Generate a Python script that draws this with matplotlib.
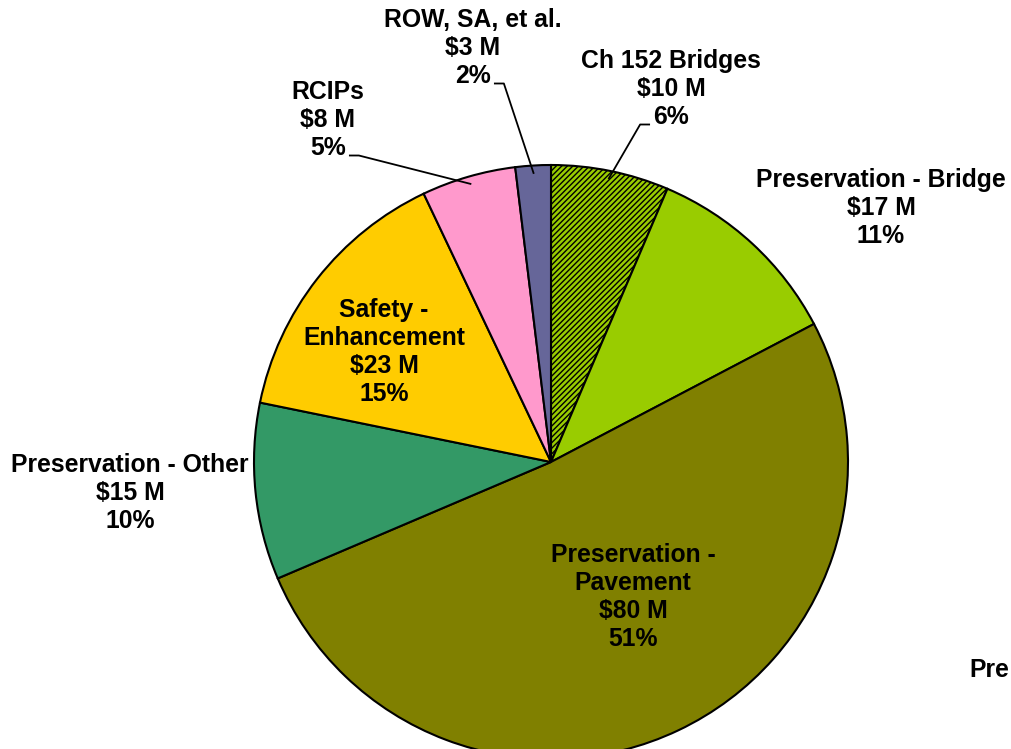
import numpy as np
import matplotlib.pyplot as plt

plt.rcParams['font.family'] = ['Liberation Sans', 'DejaVu Sans']

# data (clockwise from 12 o'clock)
names = ["Ch 152 Bridges", "Preservation - Bridge", "Preservation -\nPavement",
         "Preservation - Other", "Safety -\nEnhancement", "RCIPs", "ROW, SA, et al."]
amounts = [10, 17, 80, 15, 23, 8, 3]
colors = ["#99CC00", "#99CC00", "#808000", "#339966", "#FFCC00", "#FF99CC", "#666699"]
hatches = ["//////", None, None, None, None, None, None]

W, H = 1011, 749
cx, cy, R = 551, H - 462, 297

# label placement in pixels (x, y from top); leader side: -1 left, 1 right, 0 none
label_pos = [(671, 89), (881, 208), (633, 597), (130, 493), (384, 352), (328, 120), (473, 48)]
leader_side = [-1, 0, 0, 0, 0, 1, 1]

fig = plt.figure(figsize=(W / 100, H / 100), dpi=100)
ax = fig.add_axes([0, 0, 1, 1])

total = sum(amounts)
wedges, _ = ax.pie(amounts, colors=colors, startangle=90, counterclock=False,
                   center=(cx, cy), radius=R,
                   wedgeprops=dict(edgecolor="black", linewidth=1.5))
for w, h in zip(wedges, hatches):
    if h:
        w.set_hatch(h)
        w.set_edgecolor("black")

ax.set_xlim(0, W)
ax.set_ylim(0, H)
ax.set_aspect("equal")
ax.axis("off")

fs = 17.8
line_h = 27.5
em = fs * 100 / 72
for i, (name, amt) in enumerate(zip(names, amounts)):
    pct = round(100 * amt / total)
    txt = f"{name}\n${amt} M\n{pct}%"
    x, y = label_pos[i]
    ax.text(x, H - y, txt, ha="center", va="center", fontsize=fs,
            fontweight="bold", linespacing=1.2)
    side = leader_side[i]
    if side:
        w = wedges[i]
        mid = np.deg2rad((w.theta1 + w.theta2) / 2)
        px = cx + 0.975 * R * np.cos(mid)
        py = cy + 0.975 * R * np.sin(mid)
        n_lines = txt.count("\n") + 1
        ly = H - (y + (n_lines - 1) / 2 * line_h + 8)
        pw = em * (0.556 * len(str(pct)) + 0.889)
        lx1 = x + side * (pw / 2 + 4)
        lx0 = lx1 + side * 9
        ax.plot([lx1, lx0, px], [ly, ly, py], color="black", lw=1.3)

# partly hidden text at lower right
ax.text(1009, H - 670, "Pre", ha="right", va="center",
        fontsize=fs, fontweight="bold")

fig.savefig("out.png", dpi=100)
